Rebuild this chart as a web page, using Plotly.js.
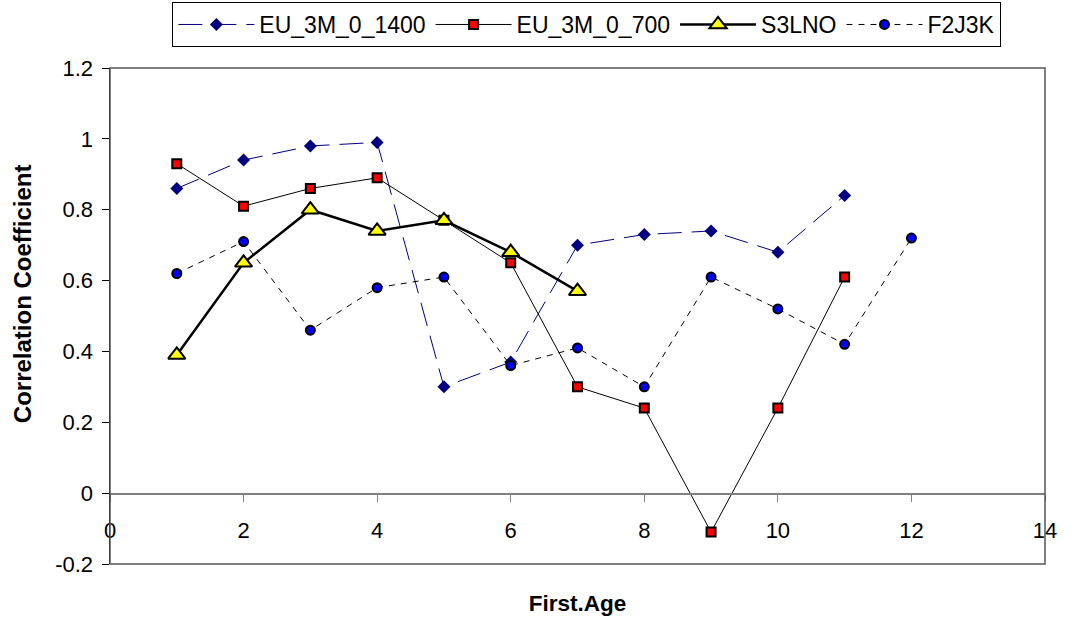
<!DOCTYPE html>
<html>
<head>
<meta charset="utf-8">
<script src="https://cdn.plot.ly/plotly-3.0.1.min.js"></script>
<style>html,body{margin:0;padding:0;background:#fff;}#chart{width:1075px;height:626px;}</style>
</head>
<body>
<div id="chart"></div>
<script>
const xEU1400 = [1, 2, 3, 4, 5, 6, 7, 8, 9, 10, 11];
const yEU1400 = [0.86, 0.94, 0.98, 0.99, 0.30, 0.37, 0.70, 0.73, 0.74, 0.68, 0.84];
const xEU700 = [1, 2, 3, 4, 5, 6, 7, 8, 9, 10, 11];
const yEU700 = [0.93, 0.81, 0.86, 0.89, 0.77, 0.65, 0.30, 0.24, -0.11, 0.24, 0.61];
const xS3LNO = [1, 2, 3, 4, 5, 6, 7];
const yS3LNO = [0.39, 0.65, 0.80, 0.74, 0.77, 0.68, 0.57];
const xF2J3K = [1, 2, 3, 4, 5, 6, 7, 8, 9, 10, 11, 12];
const yF2J3K = [0.62, 0.71, 0.46, 0.58, 0.61, 0.36, 0.41, 0.30, 0.61, 0.52, 0.42, 0.72];
const seriesNames = ["EU_3M_0_1400", "EU_3M_0_700", "S3LNO", "F2J3K"];
const yTickVals = [-0.2, 0, 0.2, 0.4, 0.6, 0.8, 1, 1.2];
const yTickText = ["-0.2", "0", "0.2", "0.4", "0.6", "0.8", "1", "1.2"];
const xTickVals = [0, 2, 4, 6, 8, 10, 12, 14];
const xTickText = ["0", "2", "4", "6", "8", "10", "12", "14"];
const xTitle = "First.Age";
const yTitle = "Correlation Coefficient";

const FONT = "Arial, 'Liberation Sans', sans-serif";

const traces = [
  {x: xEU1400, y: yEU1400, name: seriesNames[0], type: "scatter", mode: "lines+markers",
   line: {color: "#000080", width: 1, dash: "24px,10px"},
   marker: {symbol: "diamond", size: 10, color: "#000080", line: {color: "#000080", width: 0}}},
  {x: xEU700, y: yEU700, name: seriesNames[1], type: "scatter", mode: "lines+markers",
   line: {color: "#000000", width: 1},
   marker: {symbol: "square", size: 9, color: "#ff0000", line: {color: "#000000", width: 2}}},
  {x: xS3LNO, y: yS3LNO, name: seriesNames[2], type: "scatter", mode: "lines+markers",
   line: {color: "#000000", width: 2.5},
   marker: {symbol: "triangle-up", size: 15, color: "#ffff00", line: {color: "#000000", width: 2}}},
  {x: xF2J3K, y: yF2J3K, name: seriesNames[3], type: "scatter", mode: "lines+markers",
   line: {color: "#000000", width: 1, dash: "6px,6px"},
   marker: {symbol: "circle", size: 9, color: "#0000ff", line: {color: "#000000", width: 2}}}
];

const layout = {
  width: 1075, height: 626,
  paper_bgcolor: "#ffffff", plot_bgcolor: "#ffffff",
  font: {family: FONT, size: 22, color: "#000"},
  margin: {l: 110, r: 30, t: 68, b: 62, autoexpand: false},
  showlegend: true,
  legend: {orientation: "h", x: 0.51, xanchor: "center", y: 1.133, yanchor: "top",
           bordercolor: "#000", borderwidth: 1, bgcolor: "#fff",
           font: {family: FONT, size: 23}, itemwidth: 76, tracegroupgap: 0},
  xaxis: {range: [0, 14], tickvals: xTickVals, ticktext: xTickText,
          anchor: "free", position: 0.2 / 1.4, automargin: false,
          showline: true, linecolor: "#808080", linewidth: 1.5,
          ticks: "outside", ticklen: 7, tickcolor: "#808080", ticklabelstandoff: 10,
          showgrid: false, zeroline: false,
          tickfont: {family: FONT, size: 22},
          title: {text: "<b>" + xTitle + "</b>", font: {family: FONT, size: 22.5}, standoff: 53}},
  yaxis: {range: [-0.2, 1.2], tickvals: yTickVals, ticktext: yTickText, automargin: false,
          showline: true, linecolor: "#000", linewidth: 1.5,
          ticks: "outside", ticklen: 7, tickcolor: "#000", ticklabelstandoff: 4,
          showgrid: false, zeroline: false,
          tickfont: {family: FONT, size: 22}},
  annotations: [{text: "<b>" + yTitle + "</b>", textangle: -90, xref: "paper", yref: "paper",
                 x: -88 / 935, y: 0.544, xanchor: "center", yanchor: "middle", showarrow: false,
                 font: {family: FONT, size: 24, color: "#000"}}],
  shapes: [{type: "rect", xref: "paper", yref: "paper", x0: 0, x1: 1, y0: 0, y1: 1,
            line: {color: "#555", width: 1.5}, fillcolor: "rgba(0,0,0,0)", layer: "above"}]
};

Plotly.newPlot("chart", traces, layout, {displayModeBar: false, staticPlot: true});
</script>
</body>
</html>
